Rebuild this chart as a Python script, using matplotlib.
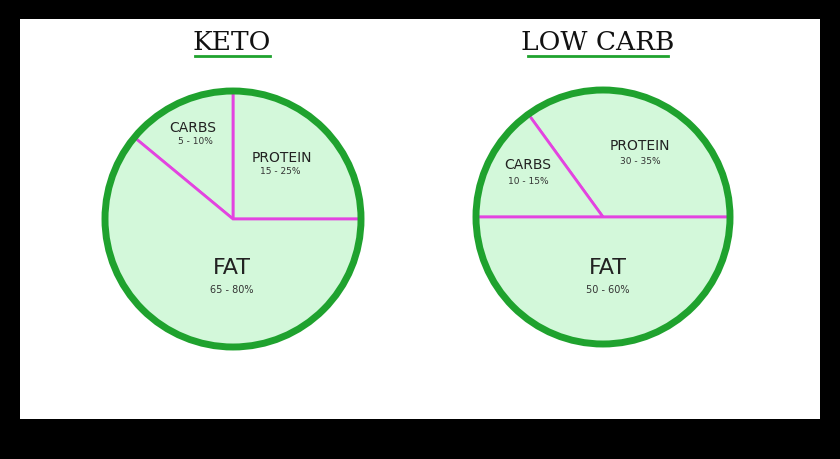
import matplotlib
matplotlib.use("Agg")
import matplotlib.pyplot as plt
from matplotlib.patches import Rectangle, Circle

titles = ["KETO", "LOW CARB"]
segments = ["PROTEIN", "CARBS", "FAT"]
keto_values = [25, 14, 61]
lowcarb_values = [35, 15, 50]
keto_ranges = ["15 - 25%", "5 - 10%", "65 - 80%"]
lowcarb_ranges = ["30 - 35%", "10 - 15%", "50 - 60%"]

fig = plt.figure(figsize=(8.4, 4.6), dpi=100, facecolor="black")
ax = fig.add_axes([0, 0, 1, 1])
ax.set_xlim(0, 840); ax.set_ylim(0, 460); ax.set_aspect("equal"); ax.axis("off")
ax.patch.set_alpha(0)
ax.add_patch(Rectangle((20, 40), 800, 400, facecolor="white", edgecolor="none", zorder=-10))

face = "#d3f8da"; green = "#1fa22e"; magenta = "#e344e0"
pies = [
    (keto_values, (233, 240), 128, keto_ranges, 232,
     [(282, 302), (193, 332), (232, 192)], [(280, 289), (195, 318), (232, 170)], 195, 270),
    (lowcarb_values, (603, 242), 127, lowcarb_ranges, 598,
     [(640, 314), (528, 295), (608, 192)], [(640, 299), (528, 279), (608, 170)], 528, 668),
]
for i, (vals, c, r, rng, tx, lpos, rpos, ux0, ux1) in enumerate(pies):
    ax.pie(vals, center=c, radius=r, startangle=0, counterclock=True,
           colors=[face]*3, wedgeprops=dict(edgecolor=magenta, linewidth=2))
    ax.add_patch(Circle(c, r, fill=False, edgecolor=green, linewidth=5, zorder=5))
    for j, s in enumerate(segments):
        big = s == "FAT"
        ax.text(*lpos[j], s, ha="center", va="center", fontsize=16 if big else 10,
                color="#222222", family="DejaVu Sans", zorder=6)
        ax.text(*rpos[j], rng[j], ha="center", va="center", fontsize=6.5 if not big else 7,
                color="#333333", zorder=6)
    ax.text(tx, 418, titles[i], ha="center", va="center", fontsize=19,
            family="DejaVu Serif", color="#111111")
    ax.plot([ux0, ux1], [403, 403], color=green, linewidth=2)
ax.set_xlim(0, 840); ax.set_ylim(0, 460); ax.axis("off")
fig.savefig("out.png", dpi=100, facecolor="black")
